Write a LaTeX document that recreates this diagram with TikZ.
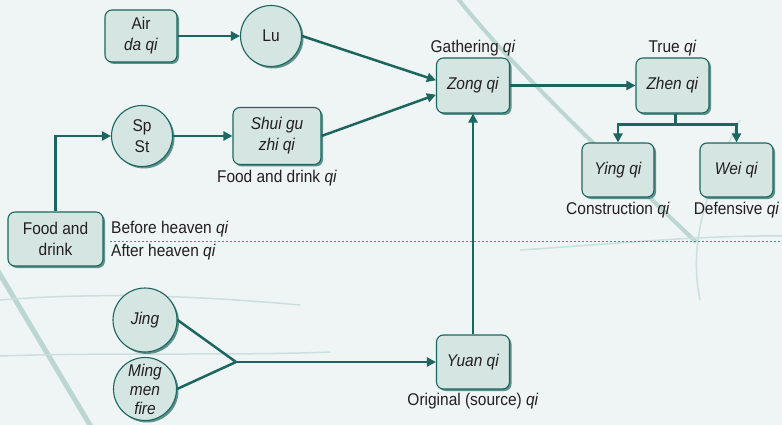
\documentclass[tikz,border=0pt]{standalone}
\usepackage{fontspec}
\setmainfont{Liberation Sans}[FakeStretch=0.91]
\usetikzlibrary{arrows.meta,shadows}
\definecolor{qiline}{HTML}{1C6560}
\definecolor{qifill}{HTML}{D5E5E2}
\definecolor{qishade}{HTML}{5E918B}
\definecolor{qitext}{HTML}{231F20}
\definecolor{qiback}{HTML}{EEF5F4}
\definecolor{qivein}{HTML}{BCD6D2}
\definecolor{qidots}{HTML}{4E8C86}
\tikzset{
    qibox/.style={draw=qiline, fill=qifill, line width=1.1pt, rounded corners=7pt,
        align=center, text=qitext, inner sep=0pt,
        drop shadow={shadow xshift=2pt, shadow yshift=-2pt, fill=qishade, opacity=1}},
    qicirc/.style={qibox, circle, sharp corners},
    qiconn/.style={draw=qiline, line width=2.5pt},
    qiarr/.style={qiconn, -{Triangle[length=9pt,width=9pt]}},
    qilabel/.style={text=qitext, inner sep=2pt},
}
\begin{document}
\begin{tikzpicture}[x=1pt, y=-1pt, font=\fontsize{17}{21}\selectfont,
    every label/.style={text=qitext}]
    \useasboundingbox (0,0) rectangle (782,425);
    \fill[qiback] (0,0) rectangle (782,425);
    % leaf veins in the background
    \draw[qivein, line width=4pt] (455,-5) .. controls (510,65) and (600,150) .. (696,242);
    \draw[qivein, line width=5pt] (-5,266) -- (93,430);
    \draw[qivein!70!qiback, line width=1.5pt] (0,300) .. controls (100,292) and (200,296) .. (300,305);
    \draw[qivein!70!qiback, line width=1.5pt] (0,356) .. controls (120,352) and (230,356) .. (330,352);
    \draw[qivein!70!qiback, line width=1.5pt] (520,250) .. controls (600,245) and (700,235) .. (782,236);
    \draw[qivein!70!qiback, line width=1.5pt] (700,300) .. controls (690,250) and (700,200) .. (740,120);

    % before / after heaven divider
    \draw[qidots, line width=1pt, dash pattern=on 2pt off 2pt] (110,241) -- (782,241);
    \node[qilabel, anchor=west] (before) at (109,229) {Before heaven \textit{qi}};
    \node[qilabel, anchor=west] (after) at (109,252) {After heaven \textit{qi}};

    \node[qibox, minimum width=72pt, minimum height=52pt] (air) at (141,36) {Air\\\textit{da qi}};
    \node[qicirc, minimum size=61pt] (lu) at (271,36) {Lu};
    \node[qicirc, minimum size=61pt] (spst) at (142,136) {Sp\\St};
    \node[qibox, minimum width=88pt, minimum height=57pt,
        label={[label distance=2pt]below:Food and drink \textit{qi}}] (shui) at (277,136)
        {\textit{Shui gu}\\\textit{zhi qi}};
    \node[qibox, minimum width=95pt, minimum height=54pt] (food) at (55.5,239) {Food and\\drink};
    \node[qicirc, minimum size=64pt] (jing) at (145,320) {\textit{Jing}};
    \node[qicirc, minimum size=63pt,
        label={[align=center, font=\fontsize{17}{19}\selectfont]center:\textit{Ming}\\\textit{men}\\\textit{fire}}]
        (ming) at (145,389) {};

    \node[qibox, minimum width=73pt, minimum height=55pt,
        label={[label distance=-2pt]above:Gathering \textit{qi}}] (zong) at (473,85.5) {\textit{Zong qi}};
    \node[qibox, minimum width=73pt, minimum height=55pt,
        label={[label distance=-2pt]above:True \textit{qi}}] (zhen) at (672.5,85.5) {\textit{Zhen qi}};
    \node[qibox, minimum width=72pt, minimum height=54pt,
        label={[label distance=1pt]below:Construction \textit{qi}}] (ying) at (618,170) {\textit{Ying qi}};
    \node[qibox, minimum width=73pt, minimum height=54pt,
        label={[label distance=1pt]below:Defensive \textit{qi}}] (wei) at (736.5,170) {\textit{Wei qi}};
    \node[qibox, minimum width=73pt, minimum height=54pt,
        label={[label distance=0pt]below:Original (source) \textit{qi}}] (yuan) at (473,362) {\textit{Yuan qi}};

    \coordinate (join) at (236,362);
    \draw[qiarr] (air) -- (lu);
    \draw[qiarr] (lu.east) -- (zong.172);
    \draw[qiarr] (food.north) |- (spst);
    \draw[qiarr] (spst) -- (shui);
    \draw[qiarr] (shui.east) -- (zong.194);
    \draw[qiarr] (zong) -- (zhen);
    \draw[qiarr] (yuan) -- (zong);
    \draw[qiconn] ([xshift=3pt]zhen.south) -- ++(0,11) coordinate (split);
    \draw[qiarr] (split) -| (ying);
    \draw[qiarr] (split) -| (wei);
    \draw[qiconn] (jing.east) -- (join);
    \draw[qiconn] (ming.east) -- (join);
    \draw[qiarr] (join) -- (yuan);
\end{tikzpicture}
\end{document}
